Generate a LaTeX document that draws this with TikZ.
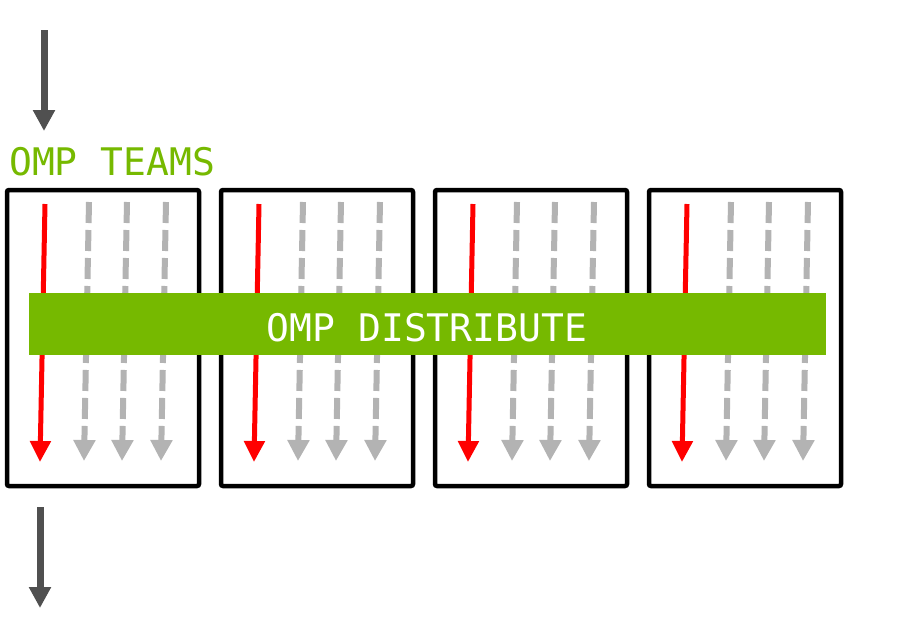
\documentclass[tikz,border=0pt]{standalone}
\usepackage{fontspec}
\setmonofont{DejaVu Sans Mono}
\usetikzlibrary{arrows.meta}
\definecolor{nvgreen}{HTML}{76B900}
\definecolor{darkarrow}{HTML}{505050}
\definecolor{lightarrow}{HTML}{B3B3B3}
\begin{document}
\begin{tikzpicture}[x=1pt,y=-1pt,
  teambox/.style={draw=black,line width=4.5pt,rounded corners=2pt},
  flowarrow/.style={draw=darkarrow,line width=7pt,-{Triangle[width=21pt,length=21pt]}},
  mainthread/.style={draw=red,line width=5pt,-{Triangle[width=20pt,length=21pt]}},
  subthread/.style={draw=lightarrow,line width=6pt,dash pattern=on 21pt off 7pt,-{Triangle[width=21pt,length=21pt]}},
  bar/.style={fill=nvgreen,draw=none},
  lbl/.style={font=\ttfamily\fontsize{38}{38}\selectfont,inner sep=0pt}]
\useasboundingbox (0,0) rectangle (908,625);
\fill[white] (0,0) rectangle (908,625);
% top and bottom flow arrows
\coordinate (in0) at (44,30);
\coordinate (in1) at (44,131);
\coordinate (out0) at (40,507);
\coordinate (out1) at (40,608);
\draw[flowarrow] (in0) -- (in1);
\draw[flowarrow] (out0) -- (out1);
% label
\node[lbl,text=nvgreen,anchor=base west] (teams) at (9,175) {OMP TEAMS};
% teams
\foreach \k in {0,1,2,3}{
  \pgfmathsetmacro{\dx}{214*\k}
  \begin{scope}[xshift=\dx pt]
    \draw[teambox] (7,190) rectangle (199,486);
    \coordinate (r\k a) at (45,204);
    \coordinate (r\k b) at (40,462);
    \draw[mainthread] (r\k a) -- (r\k b);
    \foreach \gx [count=\i] in {89,127,166}{
      \coordinate (g\k\i a) at (\gx,202);
      \coordinate (g\k\i b) at (\gx-5,461);
      \draw[subthread] (g\k\i a) -- (g\k\i b);
    }
  \end{scope}
}
% distribute bar
\fill[bar] (29,293) rectangle (826,355);
\node[lbl,text=white,anchor=base] (dist) at (427,341) {OMP DISTRIBUTE};
\end{tikzpicture}
\end{document}
